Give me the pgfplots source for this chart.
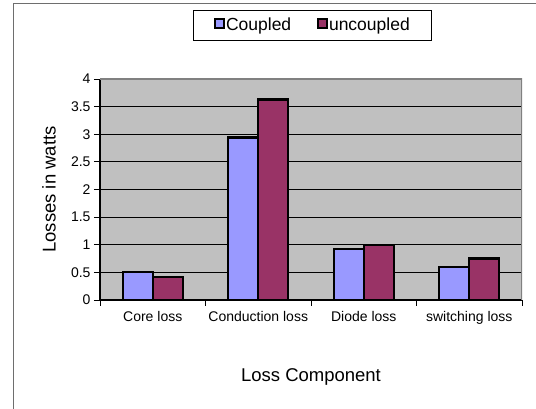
\documentclass[border=0pt]{standalone}
\usepackage{pgfplots}
\pgfplotsset{compat=1.18}
\usepackage{fontspec}
\setmainfont{Liberation Sans}
\definecolor{coupled}{HTML}{9999FF}
\definecolor{uncoupled}{HTML}{993366}
\definecolor{plotbg}{HTML}{C0C0C0}
\definecolor{frame}{HTML}{6E6E6E}
\begin{document}
\begin{tikzpicture}[x=1pt,y=1pt]
\useasboundingbox (0,0) rectangle (536,409);
\draw[frame, line width=1.5pt] (13.5,0) -- (13.5,405.5) -- (536,405.5);
\begin{axis}[
  at={(100pt,109pt)}, anchor=south west,
  scale only axis, width=422pt, height=221pt,
  xmin=-0.5, xmax=3.5, ymin=0, ymax=4,
  axis x line*=bottom, axis y line*=left,
  axis line style={black, line width=1.2pt, -},
  axis background/.style={fill=plotbg},
  ytick={0,0.5,1,1.5,2,2.5,3,3.5,4},
  yticklabels={0,0.5,1,1.5,2,2.5,3,3.5,4},
  ymajorgrids, major grid style={black, line width=0.8pt},
  xtick={0,1,2,3},
  xticklabels={Core loss,Conduction loss,Diode loss,switching loss},
  minor xtick={-0.5,0.5,1.5,2.5,3.5},
  major x tick style={draw=none},
  minor x tick style={draw=black, line width=0.8pt},
  major y tick style={draw=black, line width=0.8pt},
  tick align=outside, major tick length=6pt, minor tick length=6pt,
  ticklabel style={font=\fontsize{14}{16}\selectfont},
  /pgf/number format/assume math mode=true,
  xticklabel style={yshift=-2pt},
  ylabel={Losses in watts},
  xlabel={Loss Component},
  label style={font=\fontsize{18.5}{22}\selectfont},
  ylabel style={at={(axis description cs:-0.121,0.5)}, anchor=center},
  xlabel style={at={(axis description cs:0.5,-0.348)}, anchor=center},
  ybar, bar width=30pt,
  legend columns=2,
  legend style={at={(axis description cs:0.5036,1.244)}, anchor=center,
    draw=black, line width=0.6pt, fill=white,
    font=\fontsize{17.5}{20}\selectfont,
    inner xsep=20pt, inner ysep=6pt,
    /tikz/every even column/.append style={column sep=24pt},
    nodes={inner xsep=1.5pt}},
  legend image code/.code={\draw[#1, draw=black, line width=1.8pt] (0.9pt,-3pt) rectangle (9.9pt,6pt);},
]
\addplot[fill=coupled, draw=black, line width=2.4pt, bar shift=-15pt]
  coordinates {(0,0.51) (1,2.94) (2,0.92) (3,0.60)};
\addplot[fill=uncoupled, draw=black, line width=2.4pt, bar shift=15pt]
  coordinates {(0,0.42) (1,3.63) (2,1.00) (3,0.75)};
\legend{Coupled,uncoupled}
\draw[gray, line width=2pt] (rel axis cs:0,1) -- (rel axis cs:1,1) -- (rel axis cs:1,0);
\end{axis}
\end{tikzpicture}
\end{document}
